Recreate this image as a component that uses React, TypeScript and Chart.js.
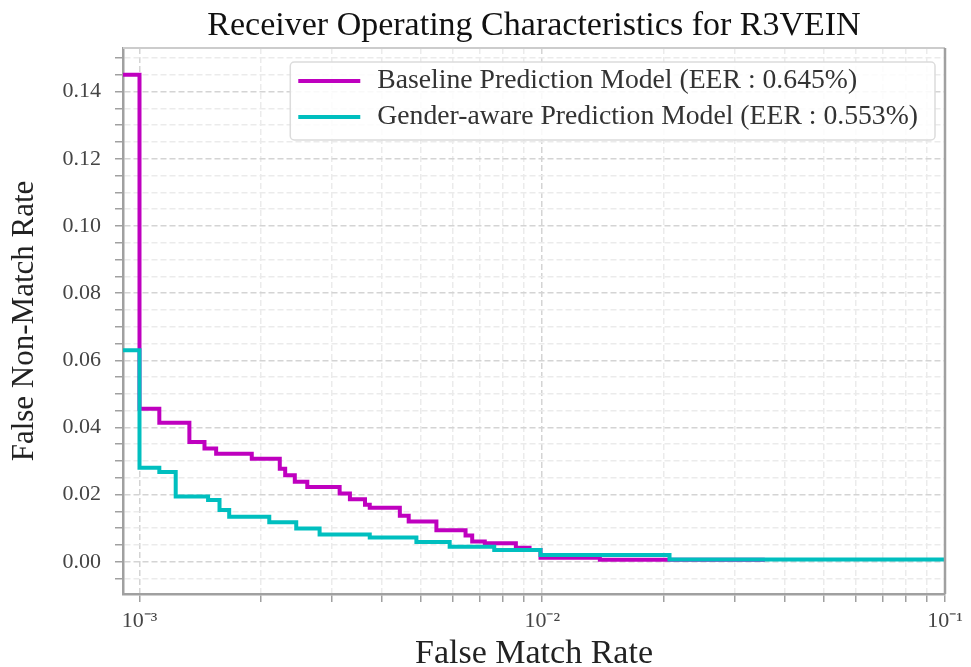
import { useEffect, useRef } from "react";
import { Chart, registerables } from "chart.js";

Chart.register(...registerables);

const TITLE = "Receiver Operating Characteristics for R3VEIN";
const X_TITLE = "False Match Rate";
const Y_TITLE = "False Non-Match Rate";
const SERIES_LABELS = [
  "Baseline Prediction Model (EER : 0.645%)",
  "Gender-aware Prediction Model (EER : 0.553%)",
];
const SERIES_COLORS = ["#BF00BF", "#00BFBF"];

const BASELINE_FMR = [
  0.00091, 0.001, 0.00112, 0.00133, 0.00145, 0.00155, 0.0019, 0.00223, 0.0023,
  0.00243, 0.00261, 0.00314, 0.00333, 0.00363, 0.00373, 0.00443, 0.00466,
  0.00546, 0.00645, 0.0067, 0.0072, 0.0086, 0.0093, 0.0099, 0.0139, 0.0357,
];
const BASELINE_FNMR = [
  0.145, 0.0456, 0.0414, 0.0357, 0.0337, 0.0322, 0.0307, 0.0277, 0.0258,
  0.0238, 0.0223, 0.0203, 0.0186, 0.017, 0.0161, 0.0137, 0.012, 0.0094,
  0.0078, 0.006, 0.0055, 0.0042, 0.0035, 0.0012, 0.0006, 0.0006,
];

const GENDER_FMR = [
  0.00091, 0.001, 0.00112, 0.00123, 0.00148, 0.00158, 0.00167, 0.0021,
  0.00245, 0.0028, 0.00373, 0.00487, 0.00589, 0.0076, 0.0099, 0.0207, 0.1,
];
const GENDER_FNMR = [
  0.063, 0.028, 0.0267, 0.0194, 0.0184, 0.0154, 0.0134, 0.0118, 0.0099,
  0.0081, 0.0072, 0.0059, 0.0045, 0.0035, 0.002, 0.0007, 0.0007,
];

const X_MIN = 0.00091;
const X_MAX = 0.1;
const Y_MIN = -0.0096;
const Y_MAX = 0.153;
const X_MAJOR = [0.001, 0.01, 0.1];
const X_LABELS = ["10\u207B\u00B3", "10\u207B\u00B2", "10\u207B\u00B9"];
const Y_MAJOR = [0, 0.02, 0.04, 0.06, 0.08, 0.1, 0.12, 0.14];
const Y_LABELS = ["0.00", "0.02", "0.04", "0.06", "0.08", "0.10", "0.12", "0.14"];
const Y_MINOR_STEP = 0.005;

const FONT = "'Liberation Serif', 'Times New Roman', serif";

const near = (a: number, b: number) => Math.abs(a - b) <= 1e-9 + Math.abs(b) * 1e-6;

function xTickValues(): number[] {
  const vals: number[] = [];
  for (let i = 0; i < X_MAJOR.length; i++) {
    vals.push(X_MAJOR[i]);
    if (i < X_MAJOR.length - 1) {
      for (let m = 2; m <= 9; m++) vals.push(X_MAJOR[i] * m);
    }
  }
  return vals;
}

function yTickValues(): number[] {
  const vals: number[] = [];
  const start = Math.ceil(Y_MIN / Y_MINOR_STEP);
  const end = Math.floor(Y_MAX / Y_MINOR_STEP);
  for (let k = start; k <= end; k++) vals.push(+(k * Y_MINOR_STEP).toFixed(4));
  return vals;
}

const titlePlugin = {
  id: "areaTitle",
  afterDraw(chart: any) {
    const { ctx, chartArea } = chart;
    ctx.save();
    ctx.font = `34px ${FONT}`;
    ctx.fillStyle = "#111111";
    ctx.textAlign = "center";
    ctx.textBaseline = "alphabetic";
    ctx.fillText(TITLE, (chartArea.left + chartArea.right) / 2, 35);
    ctx.restore();
  },
};

const framePlugin = {
  id: "frame",
  afterDatasetsDraw(chart: any) {
    const { ctx, chartArea } = chart;
    const { left, right, top, bottom } = chartArea;
    ctx.save();
    ctx.lineWidth = 2;
    ctx.strokeStyle = "#cccccc";
    ctx.beginPath();
    ctx.moveTo(left, top);
    ctx.lineTo(right, top);
    ctx.stroke();
    ctx.lineWidth = 2.5;
    ctx.strokeStyle = "#a0a0a0";
    ctx.beginPath();
    ctx.moveTo(right, top);
    ctx.lineTo(right, bottom);
    ctx.stroke();
    ctx.restore();
  },
};

const legendPlugin = {
  id: "boxLegend",
  afterDraw(chart: any) {
    const { ctx, chartArea } = chart;
    const datasets = chart.data.datasets;
    ctx.save();
    ctx.font = `27.7px ${FONT}`;
    let maxW = 0;
    datasets.forEach((d: any) => {
      maxW = Math.max(maxW, ctx.measureText(d.label).width);
    });
    const padL = 8;
    const lineLen = 62;
    const gap = 17;
    const padR = 17;
    const rowH = 36;
    const w = padL + lineLen + gap + maxW + padR;
    const h = 78;
    const right = chartArea.right - 10;
    const left = right - w;
    const top = chartArea.top + 14;
    ctx.fillStyle = "rgba(255,255,255,0.85)";
    ctx.strokeStyle = "#dcdcdc";
    ctx.lineWidth = 1.5;
    ctx.beginPath();
    (ctx as any).roundRect(left, top, w, h, 4);
    ctx.fill();
    ctx.stroke();
    datasets.forEach((d: any, i: number) => {
      const cy = top + 19 + rowH * i;
      ctx.strokeStyle = d.borderColor;
      ctx.lineWidth = 4;
      ctx.beginPath();
      ctx.moveTo(left + padL, cy);
      ctx.lineTo(left + padL + lineLen, cy);
      ctx.stroke();
      ctx.fillStyle = "#333333";
      ctx.textBaseline = "middle";
      ctx.textAlign = "left";
      ctx.fillText(d.label, left + padL + lineLen + gap, cy);
    });
    ctx.restore();
  },
};

export default function App() {
  const canvasRef = useRef<HTMLCanvasElement | null>(null);

  useEffect(() => {
    if (!canvasRef.current) return;
    const toPoints = (xs: number[], ys: number[]) => xs.map((x, i) => ({ x, y: ys[i] }));
    const chart = new Chart(canvasRef.current, {
      type: "line",
      data: {
        datasets: [
          {
            label: SERIES_LABELS[0],
            data: toPoints(BASELINE_FMR, BASELINE_FNMR),
            borderColor: SERIES_COLORS[0],
            backgroundColor: SERIES_COLORS[0],
            borderWidth: 4,
            pointRadius: 0,
            stepped: "before",
            fill: false,
            order: 1,
          },
          {
            label: SERIES_LABELS[1],
            data: toPoints(GENDER_FMR, GENDER_FNMR),
            borderColor: SERIES_COLORS[1],
            backgroundColor: SERIES_COLORS[1],
            borderWidth: 4,
            pointRadius: 0,
            stepped: "before",
            fill: false,
            order: 0,
          },
        ],
      },
      options: {
        responsive: false,
        maintainAspectRatio: false,
        animation: false,
        layout: { padding: { left: 0, right: 26, top: 48, bottom: 0 } },
        plugins: {
          legend: { display: false },
          tooltip: { enabled: false },
          title: { display: false },
        },
        scales: {
          x: {
            type: "logarithmic",
            min: X_MIN,
            max: X_MAX,
            afterBuildTicks: (scale: any) => {
              scale.ticks = xTickValues().map((v) => ({ value: v, major: X_MAJOR.some((m) => near(v, m)) }));
            },
            afterFit: (scale: any) => {
              scale.height = 73;
            },
            ticks: {
              autoSkip: false,
              maxRotation: 0,
              minRotation: 0,
              padding: 6,
              color: "#444444",
              font: { family: FONT, size: 22 },
              callback: (value: any) => {
                const i = X_MAJOR.findIndex((m) => near(Number(value), m));
                return i >= 0 ? X_LABELS[i] : "";
              },
            },
            grid: {
              color: (c: any) => (c.tick && X_MAJOR.some((m) => near(c.tick.value, m)) ? "#d4d4d4" : "#ebebeb"),
              lineWidth: 1.5,
              tickLength: 8,
              tickColor: "#a0a0a0",
              tickWidth: 1.5,
            },
            border: { display: true, color: "#a0a0a0", width: 2.5, dash: [6, 3] },
            title: {
              display: true,
              text: X_TITLE,
              color: "#222222",
              font: { family: FONT, size: 34, lineHeight: 0.75 },
              padding: { top: 0, bottom: 0 },
            },
          },
          y: {
            type: "linear",
            min: Y_MIN,
            max: Y_MAX,
            afterBuildTicks: (scale: any) => {
              scale.ticks = yTickValues().map((v) => ({ value: v, major: Y_MAJOR.some((m) => near(v, m)) }));
            },
            afterFit: (scale: any) => {
              scale.width = 123;
            },
            ticks: {
              autoSkip: false,
              padding: 14,
              color: "#444444",
              font: { family: FONT, size: 22 },
              callback: (value: any) => {
                const i = Y_MAJOR.findIndex((m) => near(Number(value), m));
                return i >= 0 ? Y_LABELS[i] : "";
              },
            },
            grid: {
              color: (c: any) => (c.tick && Y_MAJOR.some((m) => near(c.tick.value, m)) ? "#d4d4d4" : "#ebebeb"),
              lineWidth: 1.5,
              tickLength: 8,
              tickColor: "#a0a0a0",
              tickWidth: 1.5,
            },
            border: { display: true, color: "#a0a0a0", width: 2.5, dash: [6, 3] },
            title: {
              display: true,
              text: Y_TITLE,
              color: "#222222",
              font: { family: FONT, size: 31, lineHeight: 1 },
              padding: { top: 9, bottom: 0 },
            },
          },
        },
      },
      plugins: [framePlugin, legendPlugin, titlePlugin],
    } as any);
    return () => chart.destroy();
  }, []);

  return (
    <div style={{ position: "absolute", left: 0, top: 0, width: 971, height: 667, background: "#ffffff" }}>
      <canvas ref={canvasRef} width={971} height={667} style={{ display: "block" }} />
    </div>
  );
}
